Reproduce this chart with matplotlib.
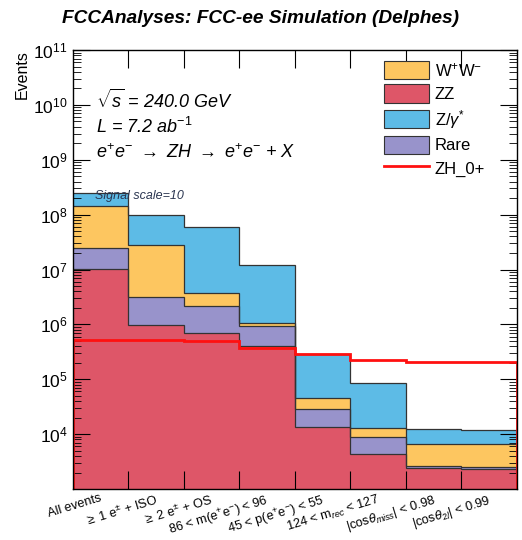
import numpy as np
import matplotlib
matplotlib.use('Agg')
from matplotlib import pyplot as plt
from matplotlib.patches import Patch
from matplotlib.lines import Line2D
from matplotlib.ticker import LogLocator, NullFormatter, FixedLocator
from matplotlib.transforms import blended_transform_factory

plt.rcParams['font.family'] = ['Liberation Sans', 'DejaVu Sans']
plt.rcParams['mathtext.fontset'] = 'custom'
plt.rcParams['mathtext.rm'] = 'Liberation Sans'
plt.rcParams['mathtext.it'] = 'Liberation Sans:italic'
plt.rcParams['mathtext.bf'] = 'Liberation Sans:bold'

# cut flow categories
cuts = ['All events',
        r'$\geq$ 1 e$^{\pm}$ + ISO',
        r'$\geq$ 2 e$^{\pm}$ + OS',
        r'86 < m(e$^{+}$e$^{-}$) < 96',
        r'45 < p(e$^{+}$e$^{-}$) < 55',
        r'124 < m$_{rec}$ < 127',
        r'|cos$\theta_{miss}$| < 0.98',
        r'|cos$\theta_{2l}$| < 0.99']

# backgrounds, stacked bottom -> top
zz   = [1.02e7, 9.8e5, 6.9e5, 4.1e5, 1.37e4, 4.3e3, 2.4e3, 2.3e3]
rare = [1.43e7, 2.22e6, 1.51e6, 5.4e5, 1.53e4, 4.7e3, 240, 270]
ww   = [1.195e8, 2.48e7, 1.5e6, 1.3e5, 1.6e4, 3.9e3, 4.0e3, 4.0e3]
zgam = [1.06e8, 7.1e7, 5.68e7, 1.1e7, 2.45e5, 7.2e4, 5.85e3, 5.1e3]

# signal (unscaled)
zh = [5.2e4, 5.2e4, 4.9e4, 3.7e4, 2.9e4, 2.25e4, 2.1e4, 2.05e4]
sig_scale = 10

col_ww = '#fdc660'
col_zz = '#de5668'
col_zg = '#5dbbe6'
col_rare = '#9893cb'

edges = np.arange(len(cuts) + 1)
centers = edges[:-1] + 0.5

fig = plt.figure(figsize=(5.22, 5.40), dpi=100)
ax = fig.add_axes([0.1398, 0.0944, 0.8506, 0.813])

layers = [(zz, col_zz), (rare, col_rare), (ww, col_ww), (zgam, col_zg)]
cum = np.zeros(len(cuts))
for vals, c in layers:
    lo = cum.copy()
    cum = cum + np.array(vals)
    base = np.where(lo > 0, lo, 1.0)
    ax.stairs(cum, edges, baseline=base, fill=True, color=c, zorder=1)
    ax.stairs(cum, edges, baseline=None, color='#333333', lw=0.9, zorder=2)

# scaled signal line
ax.stairs(np.array(zh) * sig_scale, edges, baseline=1.0, color='#ff1010', lw=2.0, zorder=3)

ax.set_yscale('log')
ax.set_ylim(1e3, 1e11)
ax.set_xlim(0, len(cuts))

ax.yaxis.set_major_locator(FixedLocator([1e4, 1e5, 1e6, 1e7, 1e8, 1e9, 1e10, 1e11]))
ax.yaxis.set_minor_locator(LogLocator(base=10, subs=np.arange(2, 10), numticks=20))
ax.yaxis.set_minor_formatter(NullFormatter())
ax.tick_params(axis='y', which='major', direction='in', length=12, width=0.8,
               left=True, right=True, labelsize=12.5, pad=4)
ax.tick_params(axis='y', which='minor', direction='in', length=6, width=0.6,
               left=True, right=True)

ax.set_xticks(edges[1:-1], minor=True)
ax.set_xticks(centers)
ax.set_xticklabels([])
ax.tick_params(axis='x', which='major', length=0)
ax.tick_params(axis='x', which='minor', direction='in', length=13, width=0.8,
               top=True, bottom=True)

trans = blended_transform_factory(ax.transData, ax.transAxes)
for xc, lab in zip(centers, cuts):
    ax.text(xc - 0.02, -0.008, lab, rotation=17, rotation_mode='anchor',
            ha='right', va='top', fontsize=9.2, color='black', transform=trans)

for s in ax.spines.values():
    s.set_linewidth(1.0)
    s.set_zorder(5)

ax.set_ylabel('Events', fontsize=11.5, loc='top', labelpad=2)

fig.text(0.5, 0.965, 'FCCAnalyses: FCC-ee Simulation (Delphes)', ha='center', va='center',
         fontsize=13.8, fontweight='bold', style='italic')

ax.text(0.052, 0.886, r'$\sqrt{s}$ = 240.0 GeV', transform=ax.transAxes, fontsize=13,
        style='italic', va='center')
ax.text(0.052, 0.825, r'L = 7.2 ab$^{-1}$', transform=ax.transAxes, fontsize=13,
        style='italic', va='center')
ax.text(0.052, 0.766, r'e$^{+}$e$^{-}$ $\rightarrow$ ZH $\rightarrow$ e$^{+}$e$^{-}$ + X',
        transform=ax.transAxes, fontsize=13, style='italic', va='center')
ax.text(0.05, 0.667, 'Signal scale=10', transform=ax.transAxes, fontsize=9,
        style='italic', va='center', color='#2a3550', zorder=6)

handles = [Patch(facecolor=col_ww, edgecolor='#333333', lw=0.8),
           Patch(facecolor=col_zz, edgecolor='#333333', lw=0.8),
           Patch(facecolor=col_zg, edgecolor='#333333', lw=0.8),
           Patch(facecolor=col_rare, edgecolor='#333333', lw=0.8),
           Line2D([0], [0], color='#ff1010', lw=2)]
labels = [r'W$^{+}$W$^{-}$', 'ZZ', r'Z/$\gamma^{*}$', 'Rare', 'ZH_0+']
ax.legend(handles, labels, loc='upper left', bbox_to_anchor=(0.70, 0.975), frameon=False,
          fontsize=12, handlelength=2.7, handleheight=1.3, labelspacing=0.3,
          handletextpad=0.35, borderaxespad=0.0, borderpad=0.0)

fig.savefig('out.png', dpi=100)
